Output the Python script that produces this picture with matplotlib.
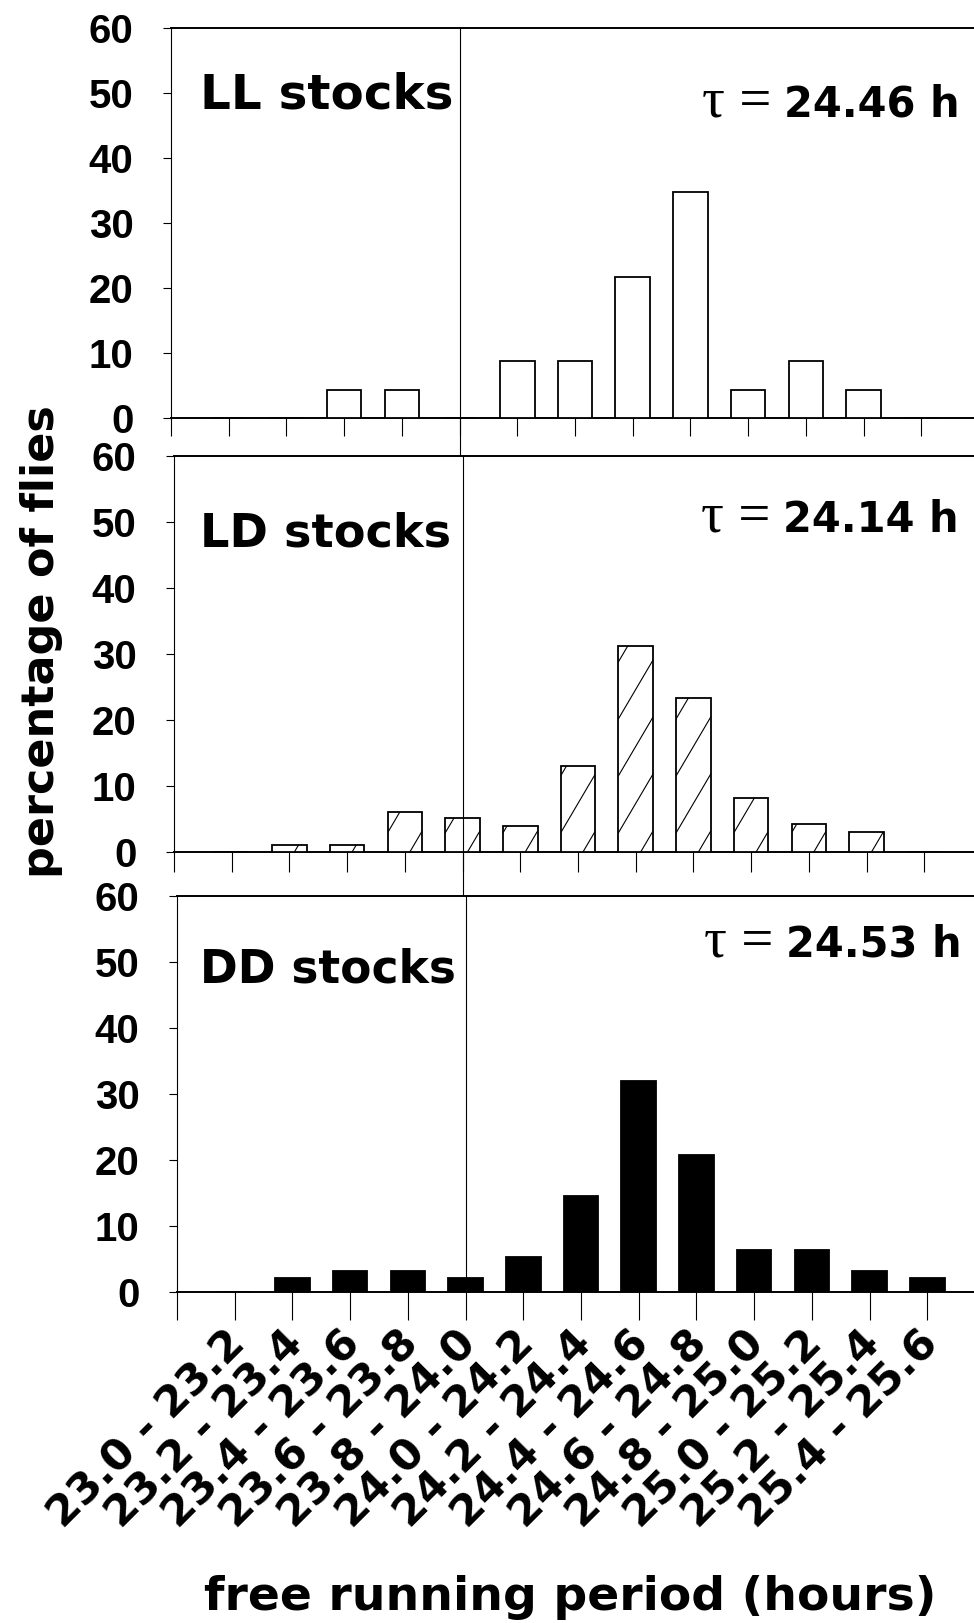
import numpy as np
import matplotlib
matplotlib.use("Agg")
import matplotlib.pyplot as plt
from matplotlib.transforms import ScaledTranslation

# ---------------- data ----------------
categories = ["23.0 - 23.2", "23.2 - 23.4", "23.4 - 23.6", "23.6 - 23.8", "23.8 - 24.0",
              "24.0 - 24.2", "24.2 - 24.4", "24.4 - 24.6", "24.6 - 24.8", "24.8 - 25.0",
              "25.0 - 25.2", "25.2 - 25.4", "25.4 - 25.6"]
ll_values = [0, 0, 4.35, 4.35, 0, 8.7, 8.7, 21.7, 34.8, 4.35, 8.7, 4.35, 0]
ld_values = [0, 1.1, 1.1, 6.0, 5.1, 4.0, 13.1, 31.2, 23.3, 8.2, 4.2, 3.1, 0]
dd_values = [0, 2.1, 3.2, 3.2, 2.1, 5.3, 14.5, 32.0, 20.8, 6.4, 6.4, 3.2, 2.1]
panel_names = ["LL stocks", "LD stocks", "DD stocks"]
tau_values = ["24.46 h", "24.14 h", "24.53 h"]
y_ticks = [0, 10, 20, 30, 40, 50, 60]
x_label = "free running period (hours)"
y_label = "percentage of flies"

# ---------------- layout ----------------
plt.rcParams['font.family'] = ['DejaVu Sans']
plt.rcParams['font.weight'] = 'bold'

W, H = 974, 1623
fig = plt.figure(figsize=(W / 100, H / 100), dpi=100)

geo = [
    dict(left=171, top=28, bottom=418, tlen=13, name_x=-0.5, name_y=47.6, name_fs=34.8,
         tau_y=46.4, tau_x=12.66, vgap=38),
    dict(left=174, top=456, bottom=852, tlen=14.5, name_x=-0.55, name_y=46.3, name_fs=33.3,
         tau_y=48.5, tau_x=12.6, vgap=44),
    dict(left=177, top=896, bottom=1292, tlen=20, name_x=-0.6, name_y=46.9, name_fs=32.8,
         tau_y=50.8, tau_x=12.6, vgap=0),
]
series = [ll_values, ld_values, dd_values]
styles = [dict(color='white', hatch=False), dict(color='white', hatch=True), dict(color='black', hatch=False)]

pos = np.arange(len(categories))
width_px = 808
for i, g in enumerate(geo):
    ax = fig.add_axes([g['left'] / W, 1 - g['bottom'] / H, width_px / W, (g['bottom'] - g['top']) / H])
    ax.set_xlim(-1, 13)
    ax.set_ylim(0, 60)
    bars = ax.bar(pos, series[i], width=0.6, color=styles[i]['color'], edgecolor='black',
                  linewidth=1.3, zorder=3)
    if styles[i]['hatch']:
        # sparse steep diagonal hatch lines clipped to each bar
        px_x = ax.bbox.width / 14.0
        px_y = ax.bbox.height / 60.0
        slope = 1.7 * px_x / px_y          # ~60 degrees on screen
        spacing = 57.0 / px_y
        for b in bars:
            x0, w, h = b.get_x(), b.get_width(), b.get_height()
            if h <= 0:
                continue
            cs = np.arange(2.9 - 10 * spacing, h + spacing, spacing)
            for c in cs:
                ln, = ax.plot([x0, x0 + w], [c, c + slope * w], color='black', lw=0.8, zorder=4)
                ln.set_clip_path(b)
    # spines
    ax.spines['right'].set_visible(False)
    ax.spines['left'].set_linewidth(0.8)
    ax.spines['top'].set_linewidth(1.4)
    ax.spines['bottom'].set_linewidth(1.4)
    # ticks
    ax.set_yticks(y_ticks)
    ax.tick_params(axis='y', direction='out', length=6, width=0.8, pad=21)
    for lab in ax.get_yticklabels():
        lab.set_fontfamily(['Liberation Sans', 'DejaVu Sans'])
        lab.set_fontsize(29)
        lab.set_fontweight('bold')
    ax.set_xticks(np.arange(-1, 13))
    ax.tick_params(axis='x', direction='out', length=g['tlen'], width=0.8)
    if i < 2:
        ax.set_xticklabels([])
    else:
        ax.set_xticklabels([''] + categories, rotation=45, ha='right', fontsize=31)
        ax.tick_params(axis='x', pad=2)
        off = ScaledTranslation(19 / 100, 0, fig.dpi_scale_trans)
        for lab in ax.get_xticklabels():
            lab.set_transform(lab.get_transform() + off)
    # vertical reference line at 23.8 - 24.0 category
    ax.axvline(4, ymin=-g['vgap'] / (g['bottom'] - g['top']), ymax=1, color='black',
               lw=0.8, clip_on=False, zorder=5)
    # texts
    ax.text(g['name_x'], g['name_y'], panel_names[i], fontsize=g['name_fs'], fontweight='bold',
            ha='left', va='baseline', zorder=6)
    t = ax.text(g['tau_x'], g['tau_y'], tau_values[i], fontsize=30, fontweight='bold',
                ha='right', va='baseline', zorder=6)
    ax.annotate("\u03c4 =", xy=(0, g['tau_y']), xycoords=(t, ax.transData),
                xytext=(-9, 0), textcoords='offset points', ha='right', va='baseline',
                fontsize=41, fontweight='normal', family=['Liberation Serif', 'DejaVu Serif'])

fig.text(42 / W, 1 - 642 / H, y_label, rotation=90, fontsize=32, fontweight='bold',
         ha='center', va='center')
fig.text(570 / W, 1 - 1610 / H, x_label, fontsize=34, fontweight='bold',
         ha='center', va='baseline')

fig.savefig('out.png', dpi=100)
